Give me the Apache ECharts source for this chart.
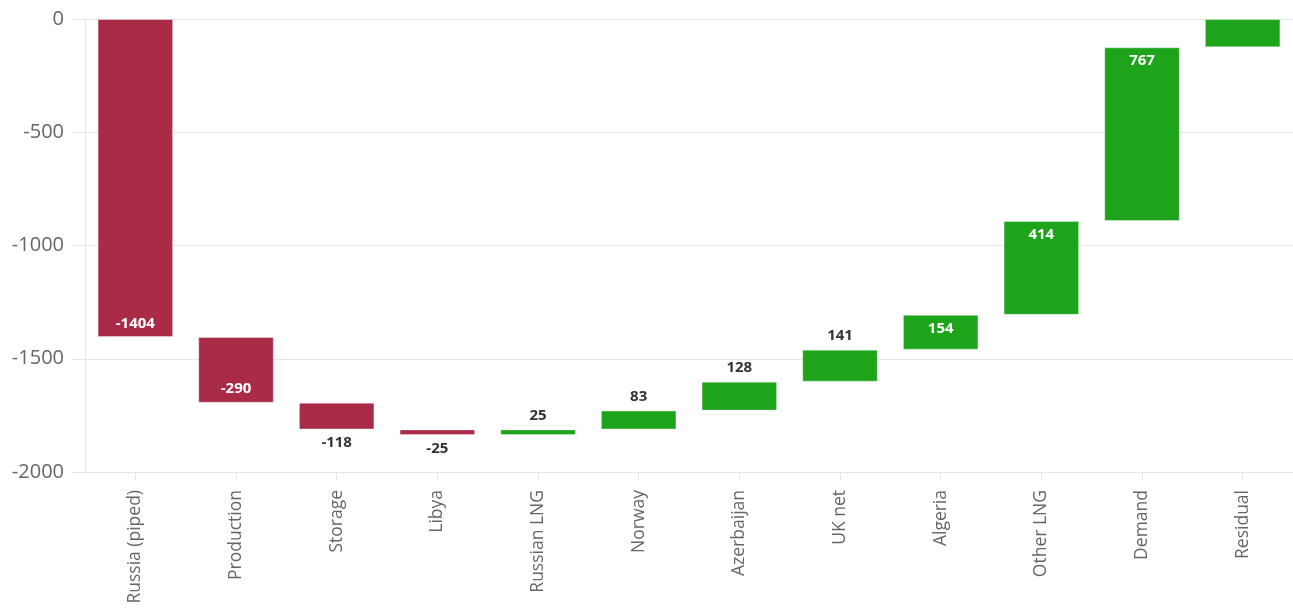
<!DOCTYPE html>
<html>
<head>
<meta charset="utf-8">
<script src="https://cdn.jsdelivr.net/npm/echarts@6/dist/echarts.min.js"></script>
<style>
  html, body { margin: 0; padding: 0; background: #fff; }
  #chart { width: 1293px; height: 610px; }
</style>
</head>
<body>
<div id="chart"></div>
<script>
// Gas supply changes (waterfall)
const categories = ['Russia (piped)', 'Production', 'Storage', 'Libya', 'Russian LNG', 'Norway',
  'Azerbaijan', 'UK net', 'Algeria', 'Other LNG', 'Demand', 'Residual'];
const changes = [-1404, -290, -118, -25, 25, 83, 128, 141, 154, 414, 767, 125];
const labelled = [true, true, true, true, true, true, true, true, true, true, true, false];
const yTicks = { min: -2000, max: 0, interval: 500 };

const RED = '#a92b47';
const GREEN = '#1da41b';
const INSIDE_MIN = 150;

// Running totals: each bar spans from the previous total to the new one.
// All totals stay at or below zero, so the bar is drawn as a transparent
// offset (its upper edge) plus a negative-height visible part stacked below.
const offsets = [];
const heights = [];
let total = 0;
changes.forEach(v => {
  const start = total;
  const end = total + v;
  offsets.push(Math.max(start, end));
  heights.push(-Math.abs(v));
  total = end;
});

const visibleData = changes.map((v, i) => {
  const big = Math.abs(v) >= INSIDE_MIN;
  let position;
  if (v < 0) position = big ? 'insideBottom' : 'bottom';
  else position = big ? 'insideTop' : 'top';
  return {
    value: heights[i],
    itemStyle: { color: v < 0 ? RED : GREEN },
    label: {
      show: labelled[i],
      position: position,
      distance: 6,
      color: big ? '#ffffff' : '#333333',
      formatter: () => String(v)
    }
  };
});

const chart = echarts.init(document.getElementById('chart'), null, { renderer: 'canvas' });
chart.setOption({
  animation: false,
  grid: { left: 85, right: 0, top: 19, bottom: 138, containLabel: false },
  xAxis: {
    type: 'category',
    data: categories,
    axisLine: { show: true, onZero: false, lineStyle: { color: '#e6e6e6', width: 1 } },
    axisTick: { show: true, alignWithLabel: true, length: 8, lineStyle: { color: '#e6e6e6' } },
    axisLabel: {
      rotate: 90,
      margin: 18,
      color: '#666666',
      fontFamily: 'Open Sans',
      fontSize: 17.5
    },
    splitLine: { show: false }
  },
  yAxis: {
    type: 'value',
    min: yTicks.min,
    max: yTicks.max,
    interval: yTicks.interval,
    axisLine: { show: true, lineStyle: { color: '#e6e6e6' } },
    axisTick: { show: true, length: 13, lineStyle: { color: '#e6e6e6' } },
    axisLabel: {
      color: '#666666',
      fontFamily: 'Open Sans',
      fontSize: 20,
      margin: 21,
      formatter: v => String(v)
    },
    splitLine: { show: true, lineStyle: { color: '#e6e6e6', width: 1 } }
  },
  series: [
    {
      name: 'offset',
      type: 'bar',
      stack: 'wf',
      barWidth: '75%',
      itemStyle: { color: 'transparent' },
      emphasis: { disabled: true },
      data: offsets,
      silent: true
    },
    {
      name: 'change',
      type: 'bar',
      stack: 'wf',
      barWidth: '75%',
      itemStyle: { borderColor: 'rgba(255,255,255,0.35)', borderWidth: 1 },
      label: {
        fontFamily: 'Open Sans',
        fontWeight: 'bold',
        fontSize: 15
      },
      data: visibleData
    }
  ]
});
</script>
</body>
</html>
